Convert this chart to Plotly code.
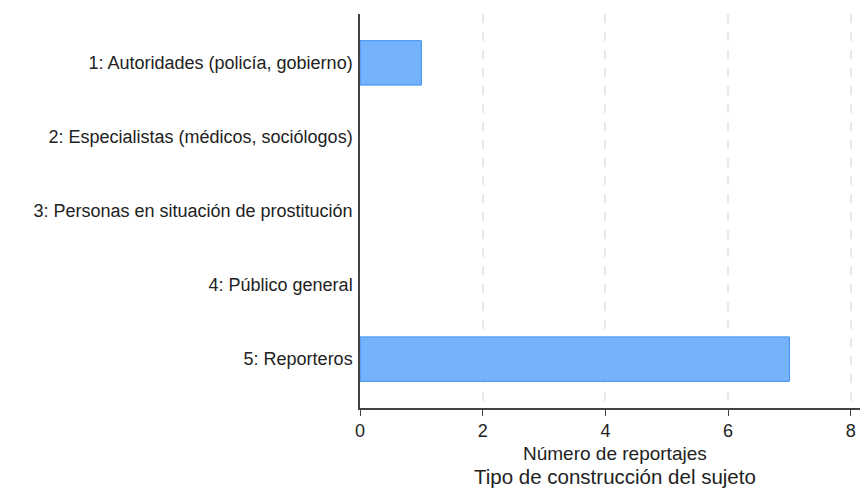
import plotly.graph_objects as go

categories = [
    "1: Autoridades (policía, gobierno)",
    "2: Especialistas (médicos, sociólogos)",
    "3: Personas en situación de prostitución",
    "4: Público general",
    "5: Reporteros",
]
values = [1, 0, 0, 0, 7]
x_ticks = [0, 2, 4, 6, 8]
x_title = "Número de reportajes"
caption = "Tipo de construcción del sujeto"

line_widths = [1 if v > 0 else 0 for v in values]

fig = go.Figure(
    go.Bar(
        y=categories,
        x=values,
        orientation="h",
        width=0.6,
        marker=dict(color="#74b3fb", line=dict(color="#3d8ef0", width=line_widths)),
    )
)

fig.update_layout(
    width=861,
    height=488,
    margin=dict(l=360, r=1, t=14, b=80, autoexpand=False),
    paper_bgcolor="white",
    plot_bgcolor="white",
    font=dict(family="Liberation Sans, Arial, sans-serif", size=18, color="#222222"),
    showlegend=False,
    bargap=0.4,
)

fig.update_xaxes(
    automargin=False,
    range=[0, 8.15],
    tickvals=x_ticks,
    ticks="outside",
    ticklen=6,
    tickcolor="#444444",
    showline=True,
    linecolor="#444444",
    linewidth=1.5,
    showgrid=True,
    gridcolor="#e8e8e8",
    griddash="dash",
    gridwidth=1.5,
    zeroline=False,
    tickfont=dict(size=18),
)

fig.update_yaxes(
    automargin=False,
    categoryorder="array",
    categoryarray=categories,
    autorange=False,
    range=[4.66, -0.66],
    showline=True,
    linecolor="#444444",
    linewidth=1.5,
    showgrid=False,
    zeroline=False,
    ticks="",
    ticklabelstandoff=2,
    tickfont=dict(size=18),
)

fig.add_annotation(
    text=x_title,
    xref="paper",
    yref="paper",
    x=0.5,
    y=0,
    xshift=5,
    yshift=-33,
    showarrow=False,
    xanchor="center",
    yanchor="top",
    font=dict(size=19, color="#222222"),
)

fig.add_annotation(
    text=caption,
    xref="paper",
    yref="paper",
    x=0.5,
    y=0,
    xshift=5,
    yshift=-55,
    showarrow=False,
    xanchor="center",
    yanchor="top",
    font=dict(size=20.5, color="#222222"),
)

fig.write_html(
    "out.html",
    config={"displayModeBar": False},
    post_script="document.body.style.margin='0';document.body.style.overflow='hidden';",
)
